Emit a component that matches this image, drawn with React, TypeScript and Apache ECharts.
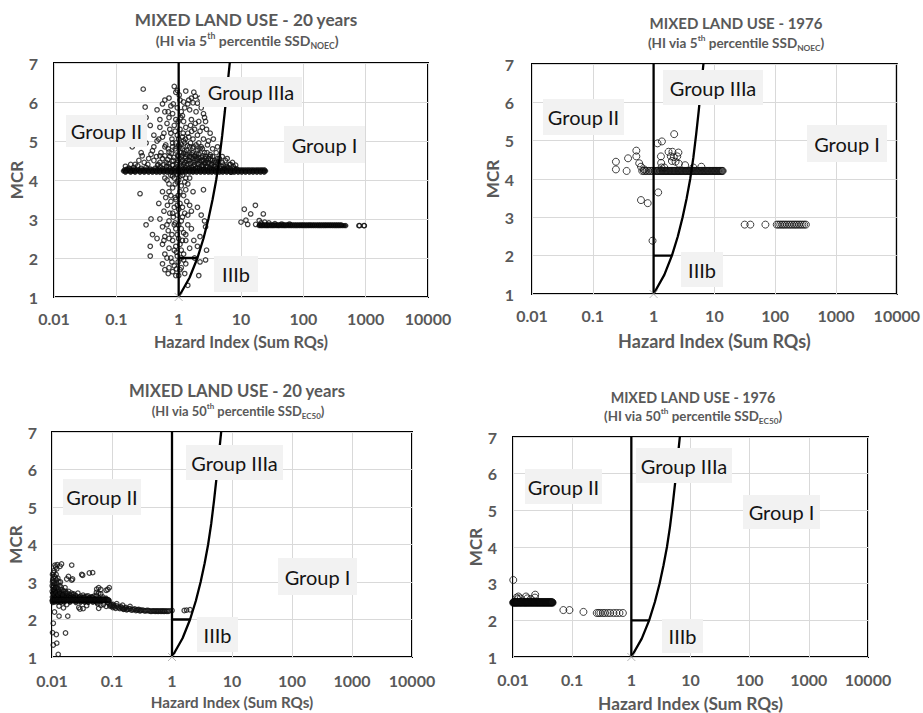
import React, { useEffect, useRef } from 'react';
import * as echarts from 'echarts';

// ---------- text ----------
const X_TICKS = ['0.01', '0.1', '1', '10', '100', '1000', '10000'];
const PANEL_TITLES = ['MIXED LAND USE - 20 years', 'MIXED LAND USE - 1976', 'MIXED LAND USE - 20 years', 'MIXED LAND USE - 1976'];
const PANEL_PERCENTILE = ['5', '5', '50', '50'];
const PANEL_ENDPOINT = ['NOEC', 'NOEC', 'EC50', 'EC50'];
const X_NAME = 'Hazard Index (Sum RQs)';
const Y_NAME = 'MCR';
const GROUP_LABELS = ['Group IIIa', 'Group II', 'Group I', 'IIIb'];

// ---------- boundaries [HI, MCR] ----------
const BOUNDARY_CURVE = [[1, 1], [1.5, 1.5], [2, 2], [2.5, 2.5], [3, 3], [3.5, 3.5], [4, 4], [4.5, 4.55], [5, 5.15], [5.5, 5.75], [6, 6.35], [6.6, 7]];
const BOUNDARY_VERTICAL = [[1, 1], [1, 7]];
const BOUNDARY_IIIB = [[1, 2], [2, 2]];
const BOUNDARY_ORIGIN = [[1, 1]];

// ---------- panel 1 : 20 years, 5th percentile ----------
const P1_CLOUD = [
  [0.27, 6.33], [0.85, 6.4], [0.9, 6.25], [1.3, 6.28], [1.75, 6.25], [1.6, 6.1], [0.6, 6.05], [0.7, 6.1], [1.05, 6.05], [1.2, 6.0],
  [0.29, 5.87], [0.55, 5.95], [0.75, 5.9], [0.95, 5.85], [1.4, 5.95], [1.7, 5.98], [2.0, 5.97], [2.3, 5.85], [0.45, 5.8], [0.6, 5.75],
  [0.8, 5.7], [1.1, 5.75], [1.5, 5.8], [1.9, 5.75], [2.5, 5.7], [2.6, 5.6], [0.3, 5.6], [0.5, 5.55], [0.7, 5.6], [0.9, 5.55],
  [1.2, 5.5], [1.6, 5.55], [2.1, 5.5], [2.7, 5.5], [0.22, 5.3], [0.35, 5.4], [0.5, 5.35], [0.65, 5.45], [0.85, 5.4], [1.05, 5.3],
  [1.3, 5.35], [1.55, 5.4], [1.8, 5.3], [2.2, 5.25], [2.8, 5.3], [3.2, 5.2], [0.4, 5.15], [0.55, 5.1], [0.75, 5.2], [0.95, 5.15],
  [1.15, 5.1], [1.4, 5.2], [1.7, 5.05], [2.0, 5.15], [2.5, 5.05], [3.0, 5.0], [3.6, 5.05], [0.3, 4.95], [0.45, 5.0], [0.62, 4.9],
  [0.8, 4.95], [1.0, 4.9], [1.25, 4.95], [1.5, 4.85], [1.9, 4.9], [2.3, 4.85], [2.9, 4.9], [3.5, 4.8], [4.2, 4.85], [0.18, 4.85],
  [0.25, 4.7], [0.38, 4.75], [0.52, 4.7], [0.68, 4.8], [0.9, 4.75], [1.1, 4.7], [1.35, 4.75], [1.65, 4.7], [2.0, 4.75], [2.6, 4.7],
  [3.2, 4.65], [4.0, 4.7], [5.0, 4.6], [6.0, 4.55], [0.14, 4.35], [0.16, 4.3], [0.2, 4.4], [0.23, 4.5], [0.28, 4.45], [0.33, 4.55],
  [0.4, 4.5], [0.47, 4.4], [0.55, 4.55], [0.63, 4.45], [0.72, 4.6], [0.82, 4.5], [0.95, 4.45], [1.05, 4.55], [1.2, 4.4], [1.35, 4.5],
  [1.5, 4.6], [1.7, 4.45], [1.9, 4.55], [2.1, 4.4], [2.4, 4.5], [2.7, 4.45], [3.0, 4.55], [3.4, 4.4], [3.8, 4.5], [4.3, 4.4],
  [5.0, 4.45], [5.8, 4.35], [6.8, 4.4], [7.5, 4.35], [8.2, 4.38], [0.3, 4.32], [0.5, 4.33], [0.7, 4.34], [0.9, 4.32], [1.1, 4.35],
  [1.3, 4.32], [1.6, 4.33], [2.0, 4.31], [2.5, 4.34], [3.2, 4.32], [4.0, 4.3], [5.5, 4.3], [7.0, 4.2], [3.5, 4.6], [4.5, 4.55],
  [6.5, 4.4], [7.3, 4.45], [6.0, 4.3],
  [0.35, 4.28], [0.42, 4.3], [0.46, 4.38], [0.5, 4.45], [0.55, 4.29], [0.58, 4.4], [0.6, 4.62], [0.64, 4.35], [0.67, 4.52], [0.7, 4.42],
  [0.73, 4.3], [0.76, 4.68], [0.78, 4.48], [0.8, 4.38], [0.84, 4.58], [0.86, 4.29], [0.88, 4.8], [0.92, 4.4], [0.96, 4.62], [0.98, 4.5],
  [1.02, 4.3], [1.04, 4.85], [1.07, 4.42], [1.12, 4.62], [1.15, 4.5], [1.18, 4.28], [1.22, 4.75], [1.25, 4.45], [1.28, 4.6], [1.32, 4.38],
  [1.38, 4.88], [1.42, 4.52], [1.45, 4.3], [1.48, 4.7], [1.55, 4.42], [1.58, 4.58], [1.62, 4.28], [1.68, 4.82], [1.72, 4.36], [1.78, 4.62],
  [1.82, 4.5], [1.88, 4.3], [1.95, 4.68], [2.02, 4.42], [2.08, 4.58], [2.15, 4.3], [2.2, 4.8], [2.28, 4.5], [2.35, 4.36], [2.45, 4.62],
  [2.55, 4.28], [2.65, 4.55], [2.75, 4.35], [2.85, 4.7], [2.95, 4.42], [3.1, 4.3], [3.25, 4.52], [3.4, 4.28], [3.6, 4.45], [3.9, 4.35],
  [4.2, 4.55], [4.6, 4.3], [5.2, 4.38], [5.6, 4.5], [6.2, 4.32], [7.8, 4.3], [8.5, 4.28], [0.25, 4.3], [0.22, 4.36], [0.19, 4.32],
  [0.15, 4.28], [0.17, 4.4], [0.26, 4.62], [0.32, 4.4], [0.36, 4.66], [0.4, 4.85], [0.44, 4.6], [0.48, 5.05], [0.58, 5.2], [0.72, 5.3],
  [0.78, 5.05], [0.88, 5.25], [0.98, 5.5], [1.08, 5.6], [1.18, 5.2], [1.28, 5.05], [1.45, 5.1], [1.62, 5.25], [1.85, 5.45], [2.4, 5.35],
  [0.68, 5.75], [0.82, 5.95], [1.02, 6.18], [1.25, 5.85], [1.45, 6.05], [0.95, 6.3], [1.15, 5.65], [2.2, 6.1], [1.85, 6.15],
  [1.0, 4.62], [1.1, 4.48], [1.2, 4.68], [1.3, 4.56], [1.4, 4.4], [1.5, 4.5], [1.6, 4.66], [1.7, 4.55], [1.8, 4.4], [1.9, 4.6],
  [2.0, 4.52], [2.1, 4.66], [2.2, 4.45], [2.3, 4.58], [2.4, 4.38], [2.5, 4.5], [2.6, 4.42], [2.7, 4.6], [2.8, 4.5], [2.9, 4.33],
  [3.0, 4.45], [3.2, 4.6], [3.3, 4.4], [3.5, 4.5], [3.7, 4.35], [3.9, 4.45], [4.1, 4.3], [4.4, 4.48], [4.8, 4.35], [5.3, 4.3],
  [0.7, 4.72], [0.8, 4.85], [0.9, 4.95], [1.0, 5.05], [1.1, 4.92], [1.2, 5.0], [1.35, 4.65], [1.55, 4.95], [1.75, 4.85], [2.1, 4.95],
  [2.4, 4.8], [1.15, 4.8], [0.6, 4.85], [0.5, 4.62],
  [0.24, 3.65], [0.6, 4.05], [0.65, 4.0], [0.85, 4.05], [1.0, 4.0], [1.3, 4.05], [1.5, 4.05], [0.7, 3.9], [0.8, 3.8], [1.1, 3.85],
  [1.4, 3.9], [1.7, 3.7], [2.5, 3.75], [0.55, 3.7], [0.62, 3.55], [0.75, 3.6], [0.9, 3.5], [1.2, 3.6], [1.35, 3.45], [0.48, 3.4],
  [0.66, 3.35], [0.85, 3.3], [1.05, 3.4], [1.5, 3.35], [2.0, 3.3], [0.58, 3.2], [0.72, 3.15], [0.95, 3.1], [1.25, 3.15], [1.6, 3.2],
  [2.3, 3.1], [0.36, 3.0], [0.5, 3.0], [0.7, 2.95], [0.88, 2.9], [1.1, 2.95], [1.4, 2.85], [2.6, 2.95], [0.3, 2.85], [0.55, 2.8],
  [0.68, 2.7], [0.9, 2.75], [1.2, 2.65], [1.6, 2.75], [2.7, 2.8], [0.38, 2.6], [0.45, 2.5], [0.6, 2.55], [0.8, 2.45], [1.0, 2.5],
  [1.3, 2.45], [1.75, 2.45], [2.2, 2.55], [0.35, 2.3], [0.55, 2.35], [0.7, 2.25], [0.9, 2.3], [1.1, 2.2], [1.5, 2.25], [2.0, 2.3],
  [2.8, 2.2], [0.35, 2.05], [0.6, 2.1], [0.75, 2.0], [0.95, 2.05], [1.2, 1.95], [1.8, 2.0], [2.2, 1.9], [2.7, 1.95], [0.55, 1.85],
  [0.7, 1.75], [0.85, 1.8], [1.05, 1.7], [1.3, 1.85], [0.6, 1.7], [0.8, 1.65], [1.0, 1.55], [1.25, 1.6], [2.1, 1.55], [1.4, 1.3],
  [0.8, 4.1], [0.95, 3.95], [1.05, 3.7], [0.88, 3.55], [1.0, 3.25], [0.82, 3.05], [1.0, 2.85], [0.78, 2.6], [1.05, 2.35], [0.92, 2.15],
  [0.98, 1.9], [0.9, 1.55], [1.1, 1.75], [0.75, 3.45], [1.15, 3.05], [1.3, 2.6], [0.65, 2.85], [0.58, 2.45], [0.98, 3.6], [1.2, 2.1],
  [0.95, 4.15], [1.05, 4.1], [0.75, 4.12], [1.15, 4.12], [0.88, 3.9], [1.25, 3.95], [0.7, 3.7], [1.3, 3.75], [0.95, 3.35], [1.15, 3.3],
  [0.8, 3.15], [1.4, 3.1], [0.85, 2.85], [1.1, 2.75], [0.7, 2.5], [0.95, 2.6], [1.15, 2.45], [0.85, 2.2], [0.65, 2.0], [1.1, 2.0],
  [0.78, 1.9], [0.92, 1.72], [0.68, 1.6],
  [11.3, 3.25], [17, 3.35], [14.3, 3.13], [22.8, 3.13], [10, 2.92], [12, 2.97], [12.8, 2.86], [17.2, 2.86], [19.6, 2.96], [21, 2.9],
  [24, 2.92], [28, 2.9], [35, 2.88], [45, 2.87], [60, 2.87],
];
const P1_BAND_MCR = [4.23, 4.26, 4.2];
const P1_BAND_HI = [0.13, 0.14, 0.15, 0.16, 0.17, 0.18, 0.19, 0.2, 0.22, 0.24, 0.26, 0.28, 0.3, 0.32, 0.35, 0.38, 0.41, 0.44, 0.48, 0.52,
  0.56, 0.6, 0.65, 0.7, 0.76, 0.82, 0.88, 0.95, 1.0, 1.05, 1.1, 1.2, 1.3, 1.4, 1.5, 1.6, 1.7, 1.8, 1.95, 2.1, 2.25, 2.4, 2.6, 2.8, 3.0,
  3.2, 3.5, 3.8, 4.1, 4.4, 4.8, 5.2, 5.6, 6.0, 6.5, 7.0, 7.6, 8.2, 8.9, 9.6, 10.4, 11.3, 12.2, 13.2, 14.3, 15.5, 16.8, 18.2, 19.7, 21.3, 23, 24.8];
const P1_BAND_HI_B = [0.135, 0.145, 0.155, 0.165, 0.175, 0.185, 0.195, 0.21, 0.23, 0.25, 0.27, 0.29, 0.31, 0.335, 0.365, 0.395, 0.425,
  0.46, 0.5, 0.54, 0.58, 0.625, 0.675, 0.73, 0.79, 0.85, 0.915, 0.975, 1.025, 1.075, 1.15, 1.25, 1.35, 1.45, 1.55, 1.65, 1.75, 1.87,
  2.02, 2.17, 2.32, 2.5, 2.7, 2.9, 3.1, 3.35, 3.65, 3.95, 4.25, 4.6, 5.0, 5.4, 5.8, 6.25, 6.75, 7.3, 7.9, 8.55, 9.25, 10, 10.8, 11.7,
  12.7, 13.7, 14.9, 16.1, 17.5, 18.9, 20.5, 22.1, 23.9];
const P1_BAND_HI_C = [0.14, 0.17, 0.2, 0.24, 0.28, 0.33, 0.38, 0.44, 0.5, 0.58, 0.66, 0.76, 0.88, 1.0, 1.15, 1.3, 1.5, 1.7, 1.95, 2.25,
  2.6, 3.0, 3.4, 3.9, 4.5, 5.1, 5.9, 6.8, 7.8, 9.0, 10.3, 11.8, 13.6, 15.6, 18, 20.6, 23.5];
const P1_TAIL_MCR = [2.83, 2.85];
const P1_TAIL_HI = [19.5, 20.8, 22, 23.5, 25, 26.5, 28, 30, 32, 34, 36.5, 39, 41, 44, 47, 50, 53, 57, 61, 65, 70, 75, 80, 86, 92, 98, 105,
  112, 120, 128, 137, 147, 158, 170, 182, 195, 210, 225, 240, 258, 276, 296, 318, 340, 365, 390, 420, 450, 480];
const P1_TAIL_HI_B = [20, 21.4, 22.8, 24.2, 25.8, 27.3, 29, 31, 33, 35.2, 37.7, 40, 42.5, 45.5, 48.5, 51.5, 55, 59, 63, 67.5, 72.5, 77.5,
  83, 89, 95, 101, 108, 116, 124, 132, 142, 152, 164, 176, 188, 202, 217, 232, 249, 267, 286, 307, 329, 352, 377, 405];
const P1_FAR = [[780, 2.83], [800, 2.83], [940, 2.83], [950, 2.83]];

// ---------- panel 2 : 1976, 5th percentile ----------
const P2_CLOUD = [
  [0.24, 4.45], [0.24, 4.25], [0.38, 4.54], [0.36, 4.21], [0.52, 4.74], [0.52, 4.59], [0.58, 4.41], [0.62, 4.32], [0.62, 3.45], [0.8, 3.37],
  [0.96, 2.39], [1.19, 3.65], [1.16, 4.93], [1.37, 4.98], [1.32, 4.59], [1.33, 4.42], [1.35, 4.3], [2.18, 5.17], [1.76, 4.71], [2.04, 4.71],
  [2.56, 4.69], [1.92, 4.59], [2.15, 4.57], [2.45, 4.59], [2.0, 4.47], [2.3, 4.45], [2.6, 4.4], [3.3, 4.36], [6.1, 4.32], [4.5, 4.3],
  [0.7, 4.25], [1.5, 4.3],
];
const P2_BAND_MCR = 4.21;
const P2_BAND_HI = [0.65, 0.69, 0.73, 0.77, 0.82, 0.87, 0.92, 0.98, 1.04, 1.1, 1.17, 1.25, 1.33, 1.42, 1.51, 1.6, 1.7, 1.8, 1.92, 2.04,
  2.17, 2.3, 2.45, 2.6, 2.75, 2.92, 3.1, 3.3, 3.5, 3.72, 3.95, 4.2, 4.45, 4.72, 5.0, 5.3, 5.65, 6.0, 6.35, 6.75, 7.15, 7.6, 8.05, 8.55,
  9.1, 9.65, 10.2, 10.8, 11.5, 12.2, 13, 13.7];
const P2_BAND_HI_B = [1.135, 1.21, 1.29, 1.375, 1.465, 1.555, 1.65, 1.75, 1.86, 1.98, 2.1, 2.23, 2.37, 2.52, 2.67, 2.83, 3.0, 3.2, 3.4,
  3.6, 3.83, 4.07, 4.32, 4.58, 4.86, 5.15, 5.47, 5.82, 6.17, 6.55, 6.95, 7.37, 7.82, 8.3, 8.82, 9.37, 9.92, 10.5, 11.15, 11.85, 12.6, 13.35];
const P2_TAIL_MCR = 2.81;
const P2_TAIL_HI = [31.5, 39, 69, 106, 113, 121, 129, 137, 146, 156, 167, 178, 190, 203, 216, 230, 246, 262, 280, 300, 320];

// ---------- panel 3 : 20 years, 50th percentile ----------
const P3_CLOUD = [
  [0.0102, 3.0], [0.0105, 2.9], [0.011, 2.8], [0.0112, 2.95], [0.0115, 2.7], [0.012, 2.85], [0.0125, 2.75], [0.013, 2.65], [0.0135, 2.9],
  [0.014, 2.8], [0.0145, 2.7], [0.015, 2.6], [0.0155, 2.75], [0.016, 2.65], [0.0165, 2.85], [0.017, 2.7], [0.018, 2.62], [0.019, 2.75],
  [0.02, 2.65], [0.021, 2.7], [0.022, 2.6], [0.023, 2.68], [0.025, 2.62], [0.027, 2.7], [0.03, 2.62], [0.033, 2.65], [0.036, 2.6],
  [0.04, 2.63], [0.045, 2.6], [0.05, 2.62], [0.055, 2.65], [0.06, 2.7], [0.065, 2.68], [0.07, 2.6],
  [0.0104, 3.1], [0.011, 3.15], [0.012, 3.05], [0.0102, 3.2], [0.0108, 3.3], [0.0115, 3.4], [0.012, 3.35],
  [0.0101, 2.75], [0.0104, 2.85], [0.0106, 2.68], [0.0109, 2.95], [0.0113, 2.78], [0.0116, 2.88], [0.0119, 2.66],
  [0.0121, 2.96], [0.0124, 2.7], [0.0127, 2.82], [0.0133, 2.74], [0.0137, 2.64], [0.0142, 2.86], [0.0147, 2.62],
  [0.0151, 2.78], [0.0156, 2.68], [0.0168, 2.75], [0.0173, 2.64], [0.0179, 2.7], [0.0194, 2.66], [0.0212, 2.63], [0.0223, 2.67],
  [0.0248, 2.64], [0.0375, 2.62], [0.0101, 2.9], [0.0103, 3.05], [0.0107, 3.0], [0.0114, 3.1], [0.0106, 3.25],
  [0.0117, 3.2], [0.0125, 3.1], [0.013, 3.0], [0.0138, 3.0],
  [0.0122, 3.46], [0.0144, 3.48], [0.0213, 3.45], [0.0112, 3.45], [0.0136, 3.42], [0.0324, 3.18], [0.0419, 3.24], [0.0476, 3.25],
  [0.0176, 3.08], [0.022, 3.08], [0.0188, 3.15], [0.0213, 3.05], [0.0313, 3.2], [0.0556, 2.81], [0.055, 2.72], [0.06, 2.85], [0.065, 2.8],
  [0.0127, 1.07], [0.0105, 1.32], [0.012, 1.37], [0.0102, 1.65], [0.0118, 1.6], [0.0168, 1.64], [0.0131, 2.09], [0.0183, 2.09],
  [0.0155, 2.31], [0.0131, 2.36], [0.0176, 2.4], [0.0293, 2.28], [0.0378, 2.37], [0.011, 2.2], [0.0105, 1.9], [0.028, 2.32], [0.033, 2.29],
  [0.058, 2.42], [0.072, 2.4], [0.085, 2.45],
  [0.09, 2.42], [0.095, 2.38], [0.1, 2.35], [0.105, 2.4], [0.11, 2.33], [0.12, 2.36], [0.13, 2.31], [0.14, 2.34], [0.15, 2.3], [0.16, 2.28],
  [0.17, 2.32], [0.18, 2.27], [0.2, 2.29], [0.22, 2.26], [0.24, 2.28], [0.26, 2.25], [0.28, 2.27], [0.3, 2.24], [0.33, 2.25], [0.36, 2.23],
  [0.4, 2.24], [0.44, 2.22], [0.48, 2.23], [0.52, 2.22], [0.56, 2.23], [0.6, 2.22], [0.65, 2.22], [0.7, 2.23], [0.75, 2.22], [0.82, 2.22],
  [0.9, 2.23], [0.06, 2.3], [0.065, 2.38], [0.08, 2.35], [0.12, 2.42], [0.15, 2.38], [0.2, 2.35], [0.09, 2.85],
  [0.085, 2.8], [0.08, 2.78], [1.0, 2.24], [1.6, 2.24], [1.75, 2.25], [2.0, 2.26],
  [0.092, 2.36], [0.098, 2.4], [0.103, 2.32], [0.108, 2.37], [0.115, 2.3], [0.125, 2.33], [0.135, 2.29], [0.145, 2.31], [0.155, 2.27],
  [0.165, 2.3], [0.175, 2.26], [0.19, 2.28], [0.21, 2.25], [0.23, 2.27], [0.25, 2.24], [0.27, 2.26], [0.29, 2.23], [0.31, 2.25],
  [0.345, 2.23], [0.38, 2.24], [0.42, 2.23], [0.46, 2.22], [0.5, 2.23], [0.54, 2.22], [0.58, 2.22], [0.63, 2.23], [0.68, 2.22],
  [0.73, 2.22], [0.79, 2.23], [0.86, 2.22],
];
const P3_BLOB = [
  [0.0101, 2.6], [0.0103, 2.7], [0.0108, 2.65], [0.0118, 2.6], [0.0128, 2.58], [0.014, 2.57], [0.0158, 2.56], [0.0175, 2.58], [0.019, 2.57],
  [0.021, 2.56], [0.024, 2.57], [0.028, 2.56], [0.032, 2.57], [0.038, 2.56], [0.044, 2.57], [0.052, 2.56], [0.06, 2.57], [0.07, 2.56],
  [0.08, 2.57], [0.0111, 2.58], [0.0129, 2.6], [0.0162, 2.6], [0.0186, 2.6], [0.0202, 2.58], [0.0235, 2.59], [0.026, 2.58], [0.0285, 2.6],
  [0.031, 2.58], [0.034, 2.6], [0.042, 2.58], [0.047, 2.6], [0.0102, 2.45], [0.011, 2.46], [0.0125, 2.46], [0.014, 2.45], [0.016, 2.46],
  [0.02, 2.46], [0.025, 2.45], [0.03, 2.46], [0.035, 2.46], [0.04, 2.45], [0.048, 2.46], [0.055, 2.45], [0.0105, 2.68], [0.0115, 2.72],
  [0.0125, 2.66], [0.0135, 2.7], [0.015, 2.66], [0.0105, 2.8], [0.0112, 2.85],
];
const P3_BAND_MCR = [2.5, 2.53];
const P3_BAND_HI = [0.01, 0.0105, 0.011, 0.0115, 0.012, 0.0126, 0.0132, 0.0138, 0.0145, 0.0152, 0.016, 0.0168, 0.0176, 0.0185, 0.0195,
  0.0205, 0.0215, 0.0226, 0.0238, 0.025, 0.0263, 0.0276, 0.029, 0.0305, 0.032, 0.0337, 0.0354, 0.0372, 0.039, 0.041, 0.043, 0.0452,
  0.0475, 0.05, 0.0525, 0.055, 0.058, 0.061, 0.064, 0.067, 0.07, 0.074, 0.078, 0.082, 0.086, 0.09];
const P3_BAND_HI_B = [0.0102, 0.0108, 0.0112, 0.0118, 0.0123, 0.0129, 0.0135, 0.0141, 0.0148, 0.0156, 0.0164, 0.0172, 0.018, 0.019, 0.02,
  0.021, 0.022, 0.0232, 0.0244, 0.0256, 0.027, 0.0283, 0.0297, 0.0312, 0.0328, 0.0345, 0.0363, 0.0381, 0.04, 0.042, 0.044, 0.0463,
  0.0487, 0.0512, 0.0537, 0.0565, 0.0595, 0.0625, 0.0655, 0.0685, 0.072, 0.076, 0.08, 0.084, 0.088];

// ---------- panel 4 : 1976, 50th percentile ----------
const P4_CLOUD = [
  [0.0101, 3.1], [0.0115, 2.62], [0.0123, 2.65], [0.0135, 2.6], [0.0166, 2.65], [0.0175, 2.6], [0.0237, 2.7], [0.0235, 2.62], [0.012, 2.58],
  [0.02, 2.58], [0.071, 2.28], [0.09, 2.28], [0.155, 2.23], [0.26, 2.2], [0.28, 2.2], [0.3, 2.2], [0.33, 2.2], [0.36, 2.2], [0.4, 2.2],
  [0.44, 2.2], [0.5, 2.2], [0.56, 2.2], [0.63, 2.2], [0.72, 2.2],
];
const P4_BAND_MCR = [2.48, 2.5];
const P4_BAND_HI = [0.01, 0.0104, 0.0108, 0.0112, 0.0116, 0.012, 0.0125, 0.013, 0.0135, 0.014, 0.0146, 0.0152, 0.0158, 0.0164, 0.017,
  0.0177, 0.0184, 0.0191, 0.0199, 0.0207, 0.0215, 0.0224, 0.0233, 0.0242, 0.0252, 0.0262, 0.0272, 0.0283, 0.0294, 0.0306, 0.0318,
  0.0331, 0.0344, 0.0358, 0.0372, 0.0387, 0.0402, 0.0418, 0.0435, 0.0452, 0.047];
const P4_BAND_HI_B = [0.0102, 0.0106, 0.011, 0.0114, 0.0118, 0.0122, 0.0127, 0.0132, 0.0137, 0.0143, 0.0149, 0.0155, 0.0161, 0.0167,
  0.0173, 0.018, 0.0187, 0.0195, 0.0203, 0.0211, 0.0219, 0.0228, 0.0237, 0.0247, 0.0257, 0.0267, 0.0277, 0.0288, 0.03, 0.0312, 0.0324,
  0.0337, 0.0351, 0.0365, 0.0379, 0.0394, 0.041, 0.0426, 0.0443, 0.046];

const row = (his: number[], mcr: number) => his.map((h) => [h, mcr]);
// scattered (individually visible) points
const PANEL_POINTS = [
  [...P1_CLOUD, ...P1_FAR],
  [...P2_CLOUD, ...row(P2_BAND_HI, P2_BAND_MCR), ...row(P2_BAND_HI_B, P2_BAND_MCR), ...row(P2_TAIL_HI, P2_TAIL_MCR)],
  P3_CLOUD,
  P4_CLOUD,
];
// densely overlapping rows of points (rendered as a solid mass in the source)
const PANEL_DENSE = [
  [...row(P1_BAND_HI, P1_BAND_MCR[0]), ...row(P1_BAND_HI_B, P1_BAND_MCR[1]), ...row(P1_BAND_HI_C, P1_BAND_MCR[2]),
    ...row(P1_TAIL_HI, P1_TAIL_MCR[0]), ...row(P1_TAIL_HI_B, P1_TAIL_MCR[1])],
  [],
  [...P3_BLOB, ...row(P3_BAND_HI, P3_BAND_MCR[0]), ...row(P3_BAND_HI_B, P3_BAND_MCR[1])],
  [...row(P4_BAND_HI, P4_BAND_MCR[0]), ...row(P4_BAND_HI_B, P4_BAND_MCR[1])],
];

// ---------- layout ----------
const FONT = 'Lato, "Liberation Sans", sans-serif';
const GREY = '#595959';
const LAYOUT = [
  { grid: { left: 54, top: 63, width: 374, height: 234 }, title: [246, 19], titleSize: 17.2, sub: [247, 40], subSize: 14,
    xLabelMargin: 13, yLabelMargin: 16, xNameGap: 36, yNameGap: 27, xNameSize: 16.3, sym: 4.5, bw: 1.25,
    boxes: [[200, 77, 102, 30], [66, 115, 81, 32], [284, 126, 81, 37], [214, 256, 44, 36]] },
  { grid: { left: 532, top: 64, width: 367, height: 230 }, title: [736, 23], titleSize: 15, sub: [736, 43], subSize: 13.5,
    xLabelMargin: 13, yLabelMargin: 18, xNameGap: 38, yNameGap: 30, xNameSize: 18, sym: 7, bw: 1,
    boxes: [[663, 70, 100, 35], [543, 99, 81, 36], [807, 125, 80, 37], [681, 252, 42, 35]] },
  { grid: { left: 52, top: 432, width: 360, height: 225 }, title: [237, 391], titleSize: 16.7, sub: [238, 411], subSize: 12.9,
    xLabelMargin: 15, yLabelMargin: 15, xNameGap: 37, yNameGap: 26, xNameSize: 15.2, sym: 4.5, bw: 1.25,
    boxes: [[186, 445, 97, 35], [63, 479, 78, 36], [278, 558, 79, 37], [197, 617, 41, 35]] },
  { grid: { left: 513, top: 437, width: 355, height: 220 }, title: [693, 397], titleSize: 14.3, sub: [693, 416], subSize: 13.3,
    xLabelMargin: 14, yLabelMargin: 16, xNameGap: 38, yNameGap: 26, xNameSize: 17.3, sym: 7, bw: 1,
    boxes: [[636, 448, 96, 35], [525, 469, 77, 35], [743, 495, 77, 34], [662, 619, 41, 34]] },
];

function buildOption() {
  const grids: any[] = [];
  const xAxes: any[] = [];
  const yAxes: any[] = [];
  const series: any[] = [];
  const graphics: any[] = [];

  LAYOUT.forEach((L, i) => {
    grids.push({ ...L.grid, show: true, borderColor: '#000', borderWidth: 2, backgroundColor: 'transparent', containLabel: false });
    xAxes.push({
      gridIndex: i, type: 'log', logBase: 10, min: 0.01, max: 10000,
      axisLine: { show: false }, axisTick: { show: false },
      splitLine: { show: true, lineStyle: { color: '#d9d9d9', width: 1 } },
      axisLabel: {
        margin: L.xLabelMargin, fontSize: 16, fontWeight: 'bold', color: GREY, fontFamily: FONT,
        formatter: (v: number) => X_TICKS[Math.round(Math.log10(v)) + 2] ?? '',
      },
      name: X_NAME, nameLocation: 'middle', nameGap: L.xNameGap,
      nameTextStyle: { fontSize: L.xNameSize, fontWeight: 'bold', color: GREY, fontFamily: FONT },
    });
    yAxes.push({
      gridIndex: i, type: 'value', min: 1, max: 7, interval: 1,
      axisLine: { show: false }, axisTick: { show: false },
      splitLine: { show: true, lineStyle: { color: '#d9d9d9', width: 1 } },
      axisLabel: { margin: L.yLabelMargin, fontSize: 16, fontWeight: 'bold', color: GREY, fontFamily: FONT },
      name: Y_NAME, nameLocation: 'middle', nameRotate: 90, nameGap: L.yNameGap,
      nameTextStyle: { fontSize: 17, fontWeight: 'bold', color: GREY, fontFamily: FONT },
    });
    series.push({
      type: 'scatter', xAxisIndex: i, yAxisIndex: i, data: PANEL_POINTS[i],
      symbol: 'circle', symbolSize: L.sym, z: 3,
      itemStyle: { color: 'rgba(0,0,0,0)', borderColor: '#111', borderWidth: L.bw },
      emphasis: { disabled: true },
    });
    if (PANEL_DENSE[i].length) {
      series.push({
        type: 'scatter', xAxisIndex: i, yAxisIndex: i, data: PANEL_DENSE[i],
        symbol: 'circle', symbolSize: L.sym, z: 3,
        itemStyle: { color: '#111', borderColor: '#000', borderWidth: L.bw * 0.6 },
        emphasis: { disabled: true },
      });
    }
    [BOUNDARY_CURVE, BOUNDARY_VERTICAL, BOUNDARY_IIIB].forEach((d) => {
      series.push({
        type: 'line', xAxisIndex: i, yAxisIndex: i, data: d, symbol: 'none', smooth: false, z: 4,
        lineStyle: { color: '#000', width: 2.3 }, emphasis: { disabled: true },
      });
    });
    series.push({
      type: 'scatter', xAxisIndex: i, yAxisIndex: i, data: BOUNDARY_ORIGIN, z: 5,
      symbol: 'path://M0,0L10,10M10,0L0,10', symbolSize: 8,
      itemStyle: { color: 'rgba(0,0,0,0)', borderColor: '#a6a6a6', borderWidth: 1 },
      emphasis: { disabled: true },
    });
    graphics.push({
      type: 'text', x: L.title[0], y: L.title[1], z: 100,
      style: { text: PANEL_TITLES[i], fill: GREY, font: `bold ${L.titleSize}px ${FONT}`, align: 'center', verticalAlign: 'middle' },
    });
    const ss = L.subSize;
    graphics.push({
      type: 'text', x: L.sub[0], y: L.sub[1], z: 100,
      style: {
        text: `{a|(HI via ${PANEL_PERCENTILE[i]}}{s|th}{a| percentile SSD}{b|${PANEL_ENDPOINT[i]}}{a|)}`,
        align: 'center', verticalAlign: 'middle',
        rich: {
          a: { fill: GREY, fontSize: ss, fontWeight: 'bold', fontFamily: FONT, lineHeight: ss + 5 },
          s: { fill: GREY, fontSize: ss * 0.62, fontWeight: 'bold', fontFamily: FONT, lineHeight: ss * 0.7, verticalAlign: 'top' },
          b: { fill: GREY, fontSize: ss * 0.62, fontWeight: 'bold', fontFamily: FONT, lineHeight: ss * 0.5, verticalAlign: 'bottom' },
        },
      },
    });
    L.boxes.forEach((b, k) => {
      graphics.push({ type: 'rect', z: 100, shape: { x: b[0], y: b[1], width: b[2], height: b[3] }, style: { fill: '#f2f2f2' } });
      graphics.push({
        type: 'text', z: 101, x: b[0] + b[2] / 2, y: b[1] + b[3] / 2,
        style: { text: GROUP_LABELS[k], fill: '#141414', font: `20px ${FONT}`, align: 'center', verticalAlign: 'middle' },
      });
    });
  });

  return {
    animation: false,
    backgroundColor: '#fff',
    grid: grids, xAxis: xAxes, yAxis: yAxes, series, graphic: graphics,
  };
}

export default function App() {
  const ref = useRef<HTMLDivElement>(null);
  useEffect(() => {
    document.body.style.margin = '0';
    if (!ref.current) return;
    const chart = echarts.init(ref.current, undefined, { renderer: 'svg' });
    chart.setOption(buildOption() as any);
    return () => chart.dispose();
  }, []);
  return <div ref={ref} style={{ width: 923, height: 713 }} />;
}
